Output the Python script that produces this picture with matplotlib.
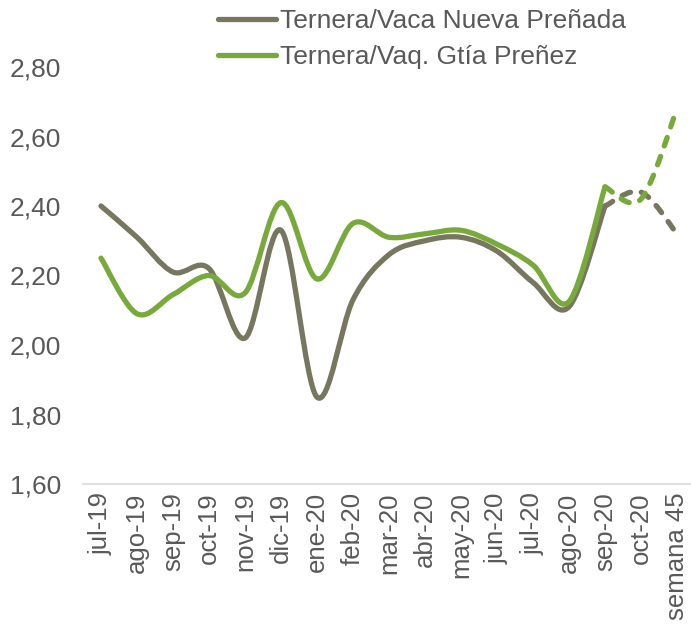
import numpy as np
import matplotlib.pyplot as plt
from matplotlib.path import Path
from matplotlib.patches import PathPatch
from matplotlib.lines import Line2D

plt.rcParams['font.family'] = ['Liberation Sans', 'DejaVu Sans']

months = ['jul-19', 'ago-19', 'sep-19', 'oct-19', 'nov-19', 'dic-19', 'ene-20',
          'feb-20', 'mar-20', 'abr-20', 'may-20', 'jun-20', 'jul-20', 'ago-20',
          'sep-20', 'oct-20', 'semana 45']

# ratio values
vaca = [2.40, 2.31, 2.21, 2.22, 2.02, 2.33, 1.85, 2.13, 2.26, 2.30, 2.31,
        2.27, 2.18, 2.11, 2.40, 2.44, 2.32]
vaq = [2.25, 2.09, 2.145, 2.20, 2.15, 2.41, 2.19, 2.35, 2.31, 2.32, 2.33,
       2.29, 2.23, 2.125, 2.455, 2.42, 2.68]

# last real month, after that the values are drawn dashed
last_solid = 14

GREY = '#77765f'
GREEN = '#78a93b'
TEXT = '#595959'


def smooth_path(xs, ys):
    # bezier through the points, like the excel smoothed line
    n = len(xs)
    verts = [(xs[0], ys[0])]
    codes = [Path.MOVETO]
    for i in range(n - 1):
        a = i - 1 if i > 0 else i
        b = i + 2 if i + 2 < n else i + 1
        c1 = (xs[i] + (xs[i + 1] - xs[a]) / 6, ys[i] + (ys[i + 1] - ys[a]) / 6)
        c2 = (xs[i + 1] - (xs[b] - xs[i]) / 6, ys[i + 1] - (ys[b] - ys[i]) / 6)
        verts += [c1, c2, (xs[i + 1], ys[i + 1])]
        codes += [Path.CURVE4] * 3
    return Path(verts, codes)


fig = plt.figure(figsize=(6.91, 6.32), dpi=100)
ax = fig.add_axes([83 / 691, 148 / 632, 612 / 691, 417 / 632])

x = np.arange(len(months))
for vals, col in [(vaca, GREY), (vaq, GREEN)]:
    solid = smooth_path(x[:last_solid + 1], vals[:last_solid + 1])
    ax.add_patch(PathPatch(solid, facecolor='none', edgecolor=col, lw=3.8,
                           capstyle='round', joinstyle='round'))
    dashed = smooth_path(x[last_solid:], vals[last_solid:])
    ax.add_patch(PathPatch(dashed, facecolor='none', edgecolor=col, lw=3.8,
                           linestyle=(0, (1.7, 2.1)), capstyle='round',
                           joinstyle='round'))

ax.set_xlim(-0.5, len(months) - 0.5)
ax.set_ylim(1.6, 2.8)
ax.set_yticks(np.arange(1.6, 2.81, 0.2))
ax.set_yticklabels([f'{v:.2f}'.replace('.', ',') for v in np.arange(1.6, 2.81, 0.2)])
ax.set_xticks(x)
ax.set_xticklabels(months, rotation=90)
ax.tick_params(axis='y', length=0, pad=16, labelsize=19, labelcolor=TEXT)
ax.tick_params(axis='x', length=0, pad=6, labelsize=18.5, labelcolor=TEXT)

for s in ['top', 'right', 'left']:
    ax.spines[s].set_visible(False)
ax.spines['bottom'].set_color('#d9d9d9')
ax.spines['bottom'].set_linewidth(1.2)

handles = [Line2D([], [], color=GREY, lw=3.8, solid_capstyle='round'),
           Line2D([], [], color=GREEN, lw=3.8, solid_capstyle='round')]
fig.legend(handles, ['Ternera/Vaca Nueva Preñada', 'Ternera/Vaq. Gtía Preñez'],
           loc='upper left', bbox_to_anchor=(218 / 691, 1 - 9 / 632),
           frameon=False, fontsize=19, labelcolor=TEXT, borderpad=0,
           borderaxespad=0, handlelength=2.2, handletextpad=0.15,
           labelspacing=0.45)

fig.savefig('out.png', dpi=100)
